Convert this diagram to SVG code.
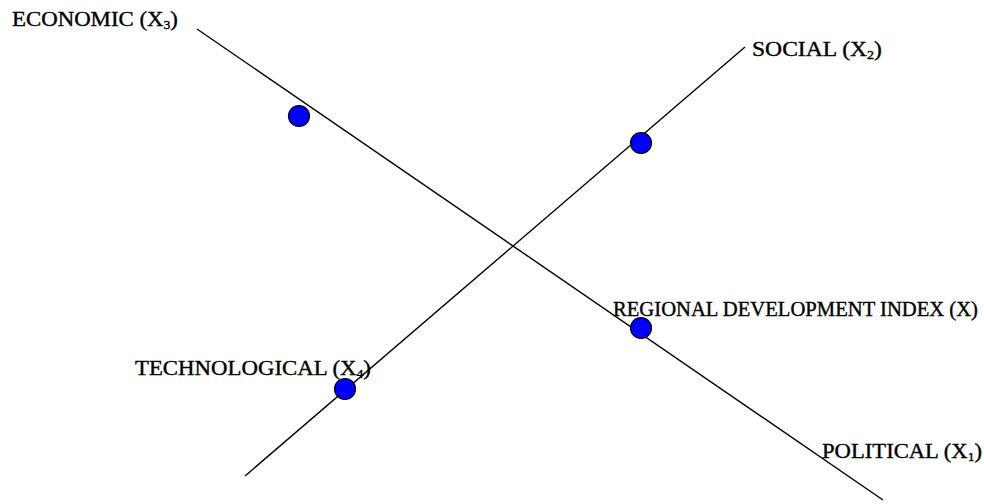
<svg xmlns="http://www.w3.org/2000/svg" width="984" height="504" viewBox="0 0 984 504">
<style>
.ax{stroke:#000;stroke-width:1.4;fill:none}
.dot{fill:#0000ff;stroke:#000;stroke-width:1.2}
.lb{font-family:"Liberation Serif",serif;font-size:20px;fill:#000;stroke:#000;stroke-width:0.35}
.sub{font-size:12px}
</style>
<rect width="984" height="504" fill="#fff"/>
<g id="connectors">
<line class="ax" x1="197" y1="29" x2="883" y2="500"/>
<line class="ax" x1="245" y1="476" x2="745" y2="47"/>
</g>
<g id="economic">
<circle class="dot" cx="299" cy="116" r="10.5"/>
<text class="lb" x="12" y="26" textLength="166" lengthAdjust="spacingAndGlyphs">ECONOMIC (X<tspan class="sub" dy="3">3</tspan><tspan dy="-3">)</tspan></text>
</g>
<g id="social">
<circle class="dot" cx="641" cy="143" r="10.5"/>
<text class="lb" x="752" y="56" textLength="130" lengthAdjust="spacingAndGlyphs">SOCIAL (X<tspan class="sub" dy="3">2</tspan><tspan dy="-3">)</tspan></text>
</g>
<g id="regional">
<circle class="dot" cx="641" cy="328" r="10.5"/>
<text class="lb" x="613" y="316" textLength="365" lengthAdjust="spacingAndGlyphs">REGIONAL DEVELOPMENT INDEX (X)</text>
</g>
<g id="technological">
<circle class="dot" cx="345" cy="389" r="10.5"/>
<text class="lb" x="135" y="375" textLength="236" lengthAdjust="spacingAndGlyphs">TECHNOLOGICAL (X<tspan class="sub" dy="3">4</tspan><tspan dy="-3">)</tspan></text>
</g>
<g id="political">
<text class="lb" x="822" y="458" textLength="160" lengthAdjust="spacingAndGlyphs">POLITICAL (X<tspan class="sub" dy="3">1</tspan><tspan dy="-3">)</tspan></text>
</g>
</svg>
